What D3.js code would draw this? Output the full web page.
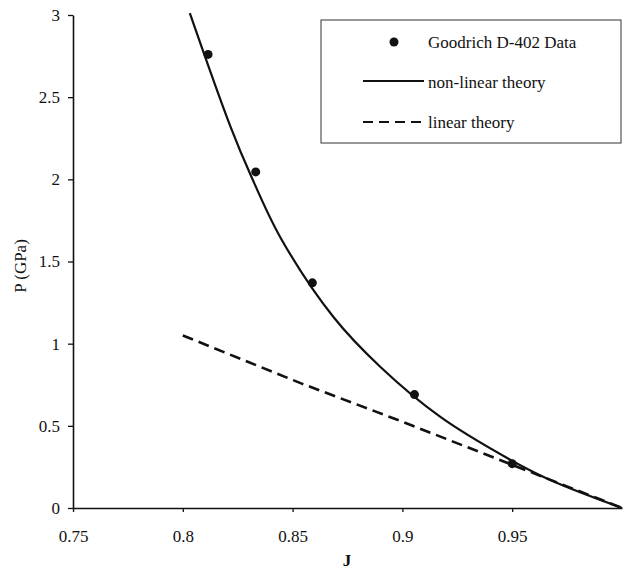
<!DOCTYPE html>
<html>
<head>
<meta charset="utf-8">
<script src="https://cdn.jsdelivr.net/npm/d3@7"></script>
<style>
  body { margin: 0; background: #fff; }
  svg text { font-family: "Liberation Serif", "Times New Roman", Times, "DejaVu Serif", serif; fill: #111; }
</style>
</head>
<body>
<svg id="chart" width="624" height="572"></svg>
<script>
// measured data (Goodrich D-402)
const dataJ = [0.8115, 0.8332, 0.859, 0.9055, 0.95];
const dataP = [2.76, 2.045, 1.37, 0.69, 0.27];

// non-linear theory curve
const nonlinJ = [0.8032, 0.8218, 0.8309, 0.8445, 0.8686, 0.89, 0.9173, 0.9477, 0.9673, 1.0];
const nonlinP = [3.012, 2.318, 2.026, 1.645, 1.162, 0.858, 0.554, 0.304, 0.17, 0];

// linear theory
const linJ = [0.8, 0.8536, 0.9, 0.95, 1.0];
const linP = [1.05, 0.76, 0.525, 0.263, 0];

const xTicks = [0.75, 0.8, 0.85, 0.9, 0.95];
const yTicks = [0, 0.5, 1, 1.5, 2, 2.5, 3];

const width = 624, height = 572;
const margin = { top: 15, right: 2, bottom: 64, left: 73 };
const serif = '"Liberation Serif", "Times New Roman", Times, "DejaVu Serif", serif';

const svg = d3.select("#chart");

//scales
const x = d3.scaleLinear().domain([0.75, 1.0]).range([margin.left, width - margin.right]);
const y = d3.scaleLinear().domain([0, 3]).range([height - margin.bottom, margin.top]);

//axes
const xAxis = svg.append("g")
    .attr("transform", `translate(0, ${y(0)})`)
    .call(d3.axisBottom(x).tickValues(xTicks).tickSize(4).tickPadding(18).tickSizeOuter(0).tickFormat(d => d));
const yAxis = svg.append("g")
    .attr("transform", `translate(${x(0.75)}, 0)`)
    .call(d3.axisLeft(y).tickValues(yTicks).tickSize(5).tickPadding(8).tickSizeOuter(0).tickFormat(d => d));

[xAxis, yAxis].forEach(g => {
    g.attr("font-family", serif).attr("font-size", 17);
    g.select(".domain").attr("stroke", "#111").attr("stroke-width", 1.6);
    g.selectAll(".tick line").attr("stroke", "#111").attr("stroke-width", 1.3);
    g.selectAll(".tick text").attr("fill", "#111");
});

//axis titles
svg.append("text")
    .attr("x", 347).attr("y", 566)
    .attr("text-anchor", "middle")
    .attr("font-size", 17).attr("font-weight", "bold")
    .text("J");
svg.append("text")
    .attr("transform", "translate(26, 266) rotate(-90)")
    .attr("text-anchor", "middle")
    .attr("font-size", 17)
    .text("P (GPa)");

//lines
const line = d3.line()
    .x(d => x(d[0]))
    .y(d => y(d[1]));

svg.append("path")
    .datum(linJ.map((j, i) => [j, linP[i]]))
    .attr("d", line)
    .attr("fill", "none")
    .attr("stroke", "#111")
    .attr("stroke-width", 2.6)
    .attr("stroke-dasharray", "11,6");

svg.append("path")
    .datum(nonlinJ.map((j, i) => [j, nonlinP[i]]))
    .attr("d", line.curve(d3.curveCatmullRom.alpha(0.5)))
    .attr("fill", "none")
    .attr("stroke", "#111")
    .attr("stroke-width", 2.2);

svg.append("g")
    .selectAll("circle")
    .data(dataJ.map((j, i) => [j, dataP[i]]))
    .join("circle")
    .attr("cx", d => x(d[0]))
    .attr("cy", d => y(d[1]))
    .attr("r", 4.5)
    .attr("fill", "#111");

//legend
const legend = svg.append("g");
legend.append("rect")
    .attr("x", 321).attr("y", 20)
    .attr("width", 300).attr("height", 123)
    .attr("fill", "#fff")
    .attr("stroke", "#333")
    .attr("stroke-width", 1);
legend.append("circle")
    .attr("cx", 394).attr("cy", 42).attr("r", 4.5).attr("fill", "#111");
legend.append("line")
    .attr("x1", 363).attr("x2", 424).attr("y1", 81).attr("y2", 81)
    .attr("stroke", "#111").attr("stroke-width", 1.8);
legend.append("line")
    .attr("x1", 363).attr("x2", 424).attr("y1", 122).attr("y2", 122)
    .attr("stroke", "#111").attr("stroke-width", 2)
    .attr("stroke-dasharray", "10,6");
const labels = ["Goodrich D-402 Data", "non-linear theory", "linear theory"];
legend.selectAll("text.lbl")
    .data(labels)
    .join("text")
    .attr("class", "lbl")
    .attr("x", 428)
    .attr("y", (d, i) => 48 + i * 40)
    .attr("font-size", 17)
    .text(d => d);
</script>
</body>
</html>
